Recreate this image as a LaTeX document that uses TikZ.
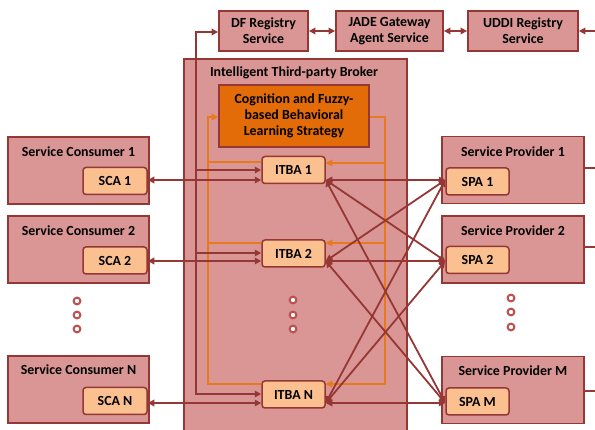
\documentclass[tikz,border=0pt]{standalone}
\usepackage{fontspec}
\setmainfont{Carlito}
\usetikzlibrary{arrows.meta,calc}
\definecolor{boxfill}{HTML}{D99694}
\definecolor{dred}{HTML}{953735}
\definecolor{agentfill}{HTML}{FAC090}
\definecolor{cogfill}{HTML}{E36C09}
\definecolor{orng}{HTML}{E8791C}
\definecolor{dotred}{HTML}{C0504D}
\begin{document}
\begin{tikzpicture}[x=1pt,y=-1pt,
  font=\fontsize{13.9}{16}\selectfont\bfseries,
  bigbox/.style={draw=dred, fill=boxfill, line width=1.8pt, inner sep=0pt, align=center},
  agent/.style={draw=dred, fill=agentfill, rounded corners=3pt, line width=1.5pt, minimum width=63pt, minimum height=27pt, inner sep=0pt},
  link/.style={draw=dred, line width=1.8pt},
  olink/.style={draw=orng, line width=1.6pt},
  tip/.tip={Triangle[length=6.5pt,width=6.5pt]},
  dotring/.style={draw=dotred, line width=2pt, fill=white}]
\useasboundingbox (0,0) rectangle (595,430);
\clip (0,0) rectangle (595,430);

% broker container
\node[bigbox, anchor=north west, minimum width=223pt, minimum height=390pt] (broker) at (183,58) {};
\node (btitle) at (294,73) {Intelligent Third-party Broker};

% top services
\node[bigbox, minimum width=89pt, minimum height=40pt] (df) at (263.5,31) {DF Registry\\Service};
\node[bigbox, minimum width=107pt, minimum height=40pt] (jade) at (389.5,31) {JADE Gateway\\Agent Service};
\node[bigbox, minimum width=110pt, minimum height=40pt] (uddi) at (523,31) {UDDI Registry\\Service};

% cognition
\node[draw=dred, fill=cogfill, line width=1.6pt, minimum width=150pt, minimum height=62pt, align=center, inner sep=0pt] (cog) at (294,116) {Cognition and Fuzzy-\\based Behavioral\\Learning Strategy};

% ITBAs
\node[agent] (itba1) at (293.5,170) {ITBA 1};
\node[agent] (itba2) at (293.5,253.5) {ITBA 2};
\node[agent] (itbaN) at (293.5,394.5) {ITBA N};

% consumers
\node[bigbox, minimum width=141pt, minimum height=67pt] (sc1) at (78.5,170.5) {};
\node[bigbox, minimum width=141pt, minimum height=67pt] (sc2) at (78.5,249.5) {};
\node[bigbox, minimum width=141pt, minimum height=67pt] (scN) at (78.5,389.5) {};
\node (sc1t) at ($(sc1.north)+(0,16)$) {Service Consumer 1};
\node (sc2t) at ($(sc2.north)+(0,16)$) {Service Consumer 2};
\node (scNt) at ($(scN.north)+(0,15)$) {Service Consumer N};
\node[agent, minimum width=64pt] (sca1) at (115,181) {SCA 1};
\node[agent, minimum width=64pt] (sca2) at (115,260.5) {SCA 2};
\node[agent, minimum width=64pt] (scaN) at (115,401) {SCA N};

% providers
\node[bigbox, minimum width=142pt, minimum height=67pt] (sp1) at (513,170) {};
\node[bigbox, minimum width=142pt, minimum height=67pt] (sp2) at (513,249.5) {};
\node[bigbox, minimum width=142pt, minimum height=67pt] (spM) at (513,390) {};
\node (sp1t) at ($(sp1.north)+(0,16)$) {Service Provider 1};
\node (sp2t) at ($(sp2.north)+(0,16)$) {Service Provider 2};
\node (spMt) at ($(spM.north)+(0,15)$) {Service Provider M};
\node[agent] (spa1) at (477.5,181.5) {SPA 1};
\node[agent] (spa2) at (477.5,260) {SPA 2};
\node[agent] (spaM) at (477.5,401.5) {SPA M};

% row coordinates
\coordinate (r1) at (0,180);
\coordinate (r2) at (0,261);
\coordinate (rN) at (0,403);
\coordinate (q1) at (0,180);
\coordinate (q2) at (0,261);
\coordinate (qM) at (0,403);

% orange feedback loop
\coordinate (ol) at (208,117);
\coordinate (or) at (385,117);
\draw[olink, -{tip}] (itbaN.west |- 0,384) -| (ol) -- (cog.west |- ol);
\draw[olink] (itba1.west |- 0,162) -- (ol |- 0,162);
\draw[olink] (itba2.west |- 0,243) -- (ol |- 0,243);
\draw[olink, -{tip}] (cog.east |- or) -- (or) |- (itbaN.east |- 0,384);
\draw[olink, -{tip}] (or |- 0,163) -- (itba1.east |- 0,163);
\draw[olink, -{tip}] (or |- 0,243) -- (itba2.east |- 0,243);

% registry bus
\coordinate (bus) at (196,32);
\draw[link, {tip}-{tip}] (df.west |- bus) -- (bus) |- (itbaN.west |- 0,394);
\draw[link, -{tip}] (bus |- 0,170) -- (itba1.west |- 0,170);
\draw[link, -{tip}] (bus |- 0,253) -- (itba2.west |- 0,253);

% top links
\draw[link, {tip}-{tip}] (df.east) -- (jade.west);
\draw[link, {tip}-{tip}] (jade.east) -- (uddi.west);
\coordinate (uddiin) at (600,31);
\draw[link, -{tip}] (uddiin) -- (uddi.east);

% consumer links
\draw[link, {tip}-{tip}] (sca1.east |- r1) -- (itba1.west |- r1);
\draw[link, {tip}-{tip}] (sca2.east |- r2) -- (itba2.west |- r2);
\draw[link, {tip}-{tip}] (scaN.east |- rN) -- (itbaN.west |- rN);

% provider links
\foreach \i in {1,2,N}{
  \foreach \j in {1,2,M}{
    \draw[link, {tip}-{tip}] (itba\i.east |- r\i) -- (spa\j.west |- q\j);
  }
}

% providers to the right
\coordinate (e1) at (600,168);
\coordinate (e2) at (600,247);
\coordinate (eM) at (600,391);
\draw[link] (sp1.east |- e1) -- (e1);
\draw[link] (sp2.east |- e2) -- (e2);
\draw[link] (spM.east |- eM) -- (eM);

% dots
\foreach \y in {301,315,329} \draw[dotring] (77,\y) circle (3.4pt);
\foreach \y in {298,312,327} \draw[dotring] (511,\y) circle (3.4pt);
\foreach \y in {300,315,329} \draw[dotring] (293,\y) circle (3.4pt);
\end{tikzpicture}
\end{document}
